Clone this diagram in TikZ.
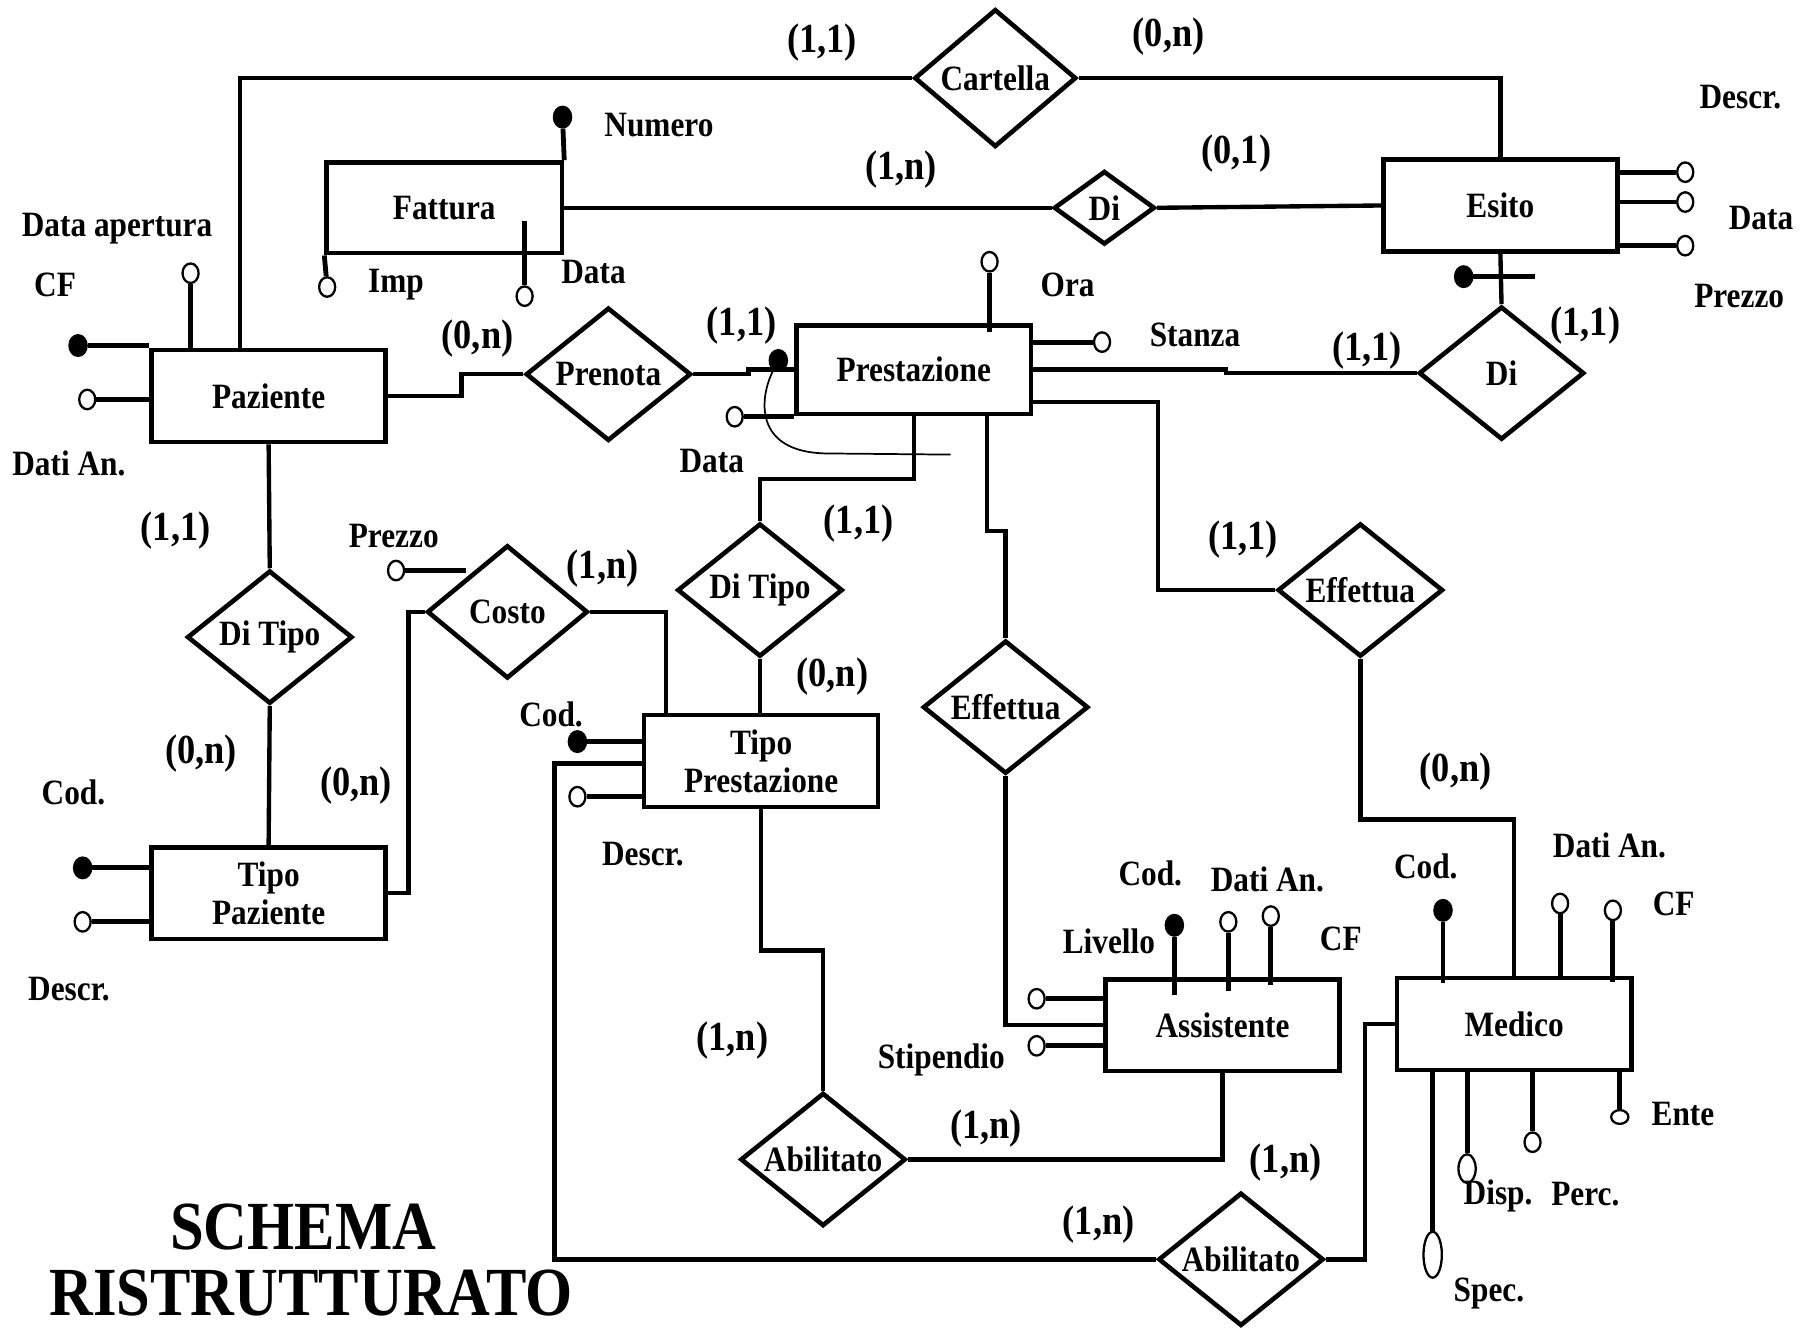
\documentclass[tikz,border=0pt]{standalone}
\usepackage{fontspec}
\setmainfont{Liberation Serif}
\newfontfamily\erfont{Liberation Serif}[FakeStretch=0.88]
\usetikzlibrary{shapes.geometric}

\begin{document}
\begin{tikzpicture}[x=1pt,y=-1pt,
  entity/.style={draw,line width=4pt,minimum width=204pt,minimum height=80pt,inner sep=0pt,align=center,
    font=\erfont\bfseries\fontsize{31}{33}\selectfont},
  rel/.style={draw,diamond,aspect=1.25,line width=4pt,minimum width=144pt,minimum height=116pt,inner sep=0pt,
    font=\erfont\bfseries\fontsize{31}{33}\selectfont},
  conn/.style={line width=3.8pt},
  attrline/.style={line width=4.2pt},
  attr/.style={draw,ellipse,line width=2pt,minimum width=14pt,minimum height=17pt,inner sep=0pt,fill=white},
  key/.style={attr,fill=black,minimum width=15pt,minimum height=18pt},
  lbl/.style={inner sep=0pt,font=\erfont\bfseries\fontsize{31}{33}\selectfont},
  card/.style={inner sep=0pt,font=\erfont\bfseries\fontsize{36}{38}\selectfont},
  title/.style={inner sep=0pt,anchor=base,font=\erfont\bfseries\fontsize{60}{60}\selectfont}]
\useasboundingbox (0,0) rectangle (1568,1157);
% entities
\node[entity,minimum width=205pt,minimum height=79pt] (fat) at (387,181) {Fattura};
\node[entity] (paz) at (234,345) {Paziente};
\node[entity,minimum height=77pt] (pre) at (796,322) {Prestazione};
\node[entity] (esi) at (1307,179) {Esito};
\node[entity] (tpaz) at (234,778) {Tipo\\Paziente};
\node[entity] (tpre) at (663,663) {Tipo\\Prestazione};
\node[entity] (ass) at (1065,893) {Assistente};
\node[entity] (med) at (1319,892) {Medico};
% relationships
\node[rel,minimum width=141pt,minimum height=120pt] (car) at (867,68) {Cartella};
\node[rel,minimum width=88pt,minimum height=64pt] (di1) at (962,181) {Di};
\node[rel] (pren) at (530,326) {Prenota};
\node[rel] (di2) at (1308,325) {Di};
\node[rel] (dtp) at (235,555) {Di Tipo};
\node[rel,minimum width=140pt] (cos) at (442,533) {Costo};
\node[rel] (dtr) at (662,514) {Di Tipo};
\node[rel] (eff1) at (1185,514) {Effettua};
\node[rel] (eff2) at (876,616) {Effettua};
\node[rel] (abi1) at (717,1010) {Abilitato};
\node[rel] (abi2) at (1081,1097) {Abilitato};
% connectors
\draw[conn] ([xshift=-25pt]paz.north) |- (car.west);
\draw[conn] (car.east) -| (esi.north);
\draw[conn] (fat.east) -- (di1.west);
\draw[conn] (di1.east) -- (esi.west);
\draw[conn] (paz.east) -- ++(64,0) |- (pren.west);
\draw[conn] (pren.east) -- ++(48,0) |- (pre.west);
\draw[conn] (pre.east) -- ++(168,0) |- (di2.west);
\draw[conn] (esi.south) -- (di2.north);
\draw[conn] (paz.south) -- (dtp.north);
\draw[conn] (dtp.south) -- (tpaz.north);
\draw[conn] (tpaz.east) -- ++(18,0) |- (cos.west);
\draw[conn] (cos.east) -| ([xshift=-83pt]tpre.north);
\draw[conn] (pre.south) -- ++(0,55) -| (dtr.north);
\draw[conn] (dtr.south) -- (dtr.south |- tpre.north);
\draw[conn] ([xshift=64pt]pre.south) -- ++(0,100) -| (eff2.north);
\draw[conn] ([yshift=-28pt]pre.east) -- ++(109,0) |- (eff1.west);
\draw[conn] (eff1.south) -- ++(0,140) -| (med.north);
\draw[conn] (eff2.south) |- (ass.west);
\draw[conn] (tpre.south) -- ++(0,123) -| (abi1.north);
\draw[conn] (ass.south) |- (abi1.east);
\draw[conn] ([yshift=-2pt]tpre.west) -- ++(-76,0) |- (abi2.west);
\draw[conn] (abi2.east) -- ++(34,0) |- (med.west);
% attributes of Fattura
\node[key] (fatnum) at (490,102) {};
\node[attr] (fatimp) at (285,250) {};
\node[attr] (fatdata) at (457,258) {};
\draw[attrline] (fatnum) -- (fat.north east);
\draw[attrline] (fatimp) -- (fat.south west);
\draw[attrline] (fatdata.north) -- ++(0,-56);
% attributes of Paziente
\node[key] (pazcf) at (68,301) {};
\node[attr] (pazdati) at (76,348) {};
\node[attr] (pazdata) at (166,238) {};
\draw[attrline] (pazcf) -- (pazcf -| paz.west);
\draw[attrline] (pazdati) -- (pazdati -| paz.west);
\draw[attrline] (pazdata) -- (pazdata |- paz.north);
% attributes of Prestazione
\node[attr] (preora) at (862,228) {};
\node[attr] (prestanza) at (960,298) {};
\node[attr] (predata) at (640,363) {};
\node[key] (prekey) at (678,314) {};
\coordinate (prekeyend) at (828,396);
\draw[attrline] (preora) -- (preora |- pre.north) -- ++(0,8);
\draw[attrline] (prestanza) -- (prestanza -| pre.east);
\draw[attrline] (predata) -- (predata -| pre.west);
\draw[line width=1.5pt] (prekey) .. controls (662,345) and (655,394) .. (720,395) -- (prekeyend);
% attributes of Esito
\node[attr] (esidescr) at (1468,150) {};
\node[attr] (esidata) at (1468,176) {};
\node[attr] (esiprezzo) at (1468,214) {};
\node[key] (esikey) at (1275,241) {};
\coordinate (esikeyend) at (1337,241);
\draw[attrline] (esidescr) -- (esidescr -| esi.east);
\draw[attrline] (esidata) -- (esidata -| esi.east);
\draw[attrline] (esiprezzo) -- (esiprezzo -| esi.east);
\draw[attrline] (esikey) -- (esikeyend);
% attributes of Tipo Paziente, Costo, Tipo Prestazione
\node[key] (tpazcod) at (72,756) {};
\node[attr] (tpazdescr) at (72,803) {};
\draw[attrline] (tpazcod) -- (tpazcod -| tpaz.west);
\draw[attrline] (tpazdescr) -- (tpazdescr -| tpaz.west);
\node[attr] (cosprezzo) at (345,497) {};
\draw[attrline] (cosprezzo) -- (cosprezzo -| cos.north west);
\node[key] (tprecod) at (503,646) {};
\node[attr] (tpredescr) at (503,694) {};
\draw[attrline] (tprecod) -- (tprecod -| tpre.west);
\draw[attrline] (tpredescr) -- (tpredescr -| tpre.west);
% attributes of Assistente
\node[key] (asscod) at (1023,806) {};
\node[attr] (assdati) at (1070,803) {};
\node[attr] (asscf) at (1107,798) {};
\node[attr] (asslivello) at (903,870) {};
\node[attr] (assstip) at (903,911) {};
\draw[attrline] (asscod) -- (asscod |- ass.north) -- ++(0,16);
\draw[attrline] (assdati) -- (assdati |- ass.north) -- ++(0,12);
\draw[attrline] (asscf) -- (asscf |- ass.north) -- ++(0,7);
\draw[attrline] (asslivello) -- (asslivello -| ass.west);
\draw[attrline] (assstip) -- (assstip -| ass.west);
% attributes of Medico
\node[key] (medcod) at (1257,793) {};
\node[attr] (meddati) at (1359,787) {};
\node[attr] (medcf) at (1405,793) {};
\node[attr,minimum width=16pt,minimum height=40pt] (medspec) at (1248,1093) {};
\node[attr,minimum width=15pt,minimum height=25pt] (meddisp) at (1278,1018) {};
\node[attr] (medperc) at (1335,995) {};
\node[attr,minimum width=15pt,minimum height=12pt] (medente) at (1411,973) {};
\draw[attrline] (medcod) -- (medcod |- med.north) -- ++(0,6);
\draw[attrline] (meddati) -- (meddati |- med.north);
\draw[attrline] (medcf) -- (medcf |- med.north) -- ++(0,5);
\draw[attrline] (medspec) -- (medspec |- med.south);
\draw[attrline] (meddisp) -- (meddisp |- med.south);
\draw[attrline] (medperc) -- (medperc |- med.south);
\draw[attrline] (medente) -- (medente |- med.south);
% attribute names
\node[lbl] (lnum) at (574,109) {Numero};
\node[lbl] (lfatimp) at (345,248) {Imp};
\node[lbl] (lfatdata) at (517,237) {Data};
\node[lbl] (ldataap) at (102,199) {Data apertura};
\node[lbl] (lpazcf) at (48,248) {CF};
\node[lbl] (lpazdati) at (60,404) {Dati An.};
\node[lbl] (lora) at (930,248) {Ora};
\node[lbl] (lstanza) at (1041,292) {Stanza};
\node[lbl] (lpredata) at (620,402) {Data};
\node[lbl] (lesidescr) at (1516,85) {Descr.};
\node[lbl] (lesidata) at (1534,190) {Data};
\node[lbl] (lesiprezzo) at (1515,258) {Prezzo};
\node[lbl] (lcosprezzo) at (343,467) {Prezzo};
\node[lbl] (ltpazcod) at (64,690) {Cod.};
\node[lbl] (ltpazdescr) at (60,862) {Descr.};
\node[lbl] (ltprecod) at (480,622) {Cod.};
\node[lbl] (ltpredescr) at (560,744) {Descr.};
\node[lbl] (lasscod) at (1002,761) {Cod.};
\node[lbl] (lassdati) at (1104,766) {Dati An.};
\node[lbl] (lasslivello) at (966,820) {Livello};
\node[lbl] (lasscf) at (1168,818) {CF};
\node[lbl] (lassstip) at (820,923) {Stipendio};
\node[lbl] (lmedcod) at (1242,755) {Cod.};
\node[lbl] (lmeddati) at (1402,736) {Dati An.};
\node[lbl] (lmedcf) at (1458,787) {CF};
\node[lbl] (lmedente) at (1466,970) {Ente};
\node[lbl] (lmeddisp) at (1305,1042) {Disp.};
\node[lbl] (lmedperc) at (1381,1040) {Perc.};
\node[lbl] (lmedspec) at (1297,1127) {Spec.};
% cardinalities
\node[card] (c1) at (716,37) {(1,1)};
\node[card] (c2) at (1018,32) {(0,n)};
\node[card] (c3) at (785,148) {(1,n)};
\node[card] (c4) at (1077,134) {(0,1)};
\node[card] (c5) at (416,295) {(0,n)};
\node[card] (c6) at (646,284) {(1,1)};
\node[card] (c7) at (1191,305) {(1,1)};
\node[card] (c8) at (1381,284) {(1,1)};
\node[card] (c9) at (153,462) {(1,1)};
\node[card] (c10) at (748,456) {(1,1)};
\node[card] (c11) at (525,495) {(1,n)};
\node[card] (c12) at (1083,470) {(1,1)};
\node[card] (c13) at (725,589) {(0,n)};
\node[card] (c14) at (175,656) {(0,n)};
\node[card] (c15) at (310,684) {(0,n)};
\node[card] (c16) at (1268,672) {(0,n)};
\node[card] (c17) at (638,906) {(1,n)};
\node[card] (c18) at (859,983) {(1,n)};
\node[card] (c19) at (1120,1013) {(1,n)};
\node[card] (c20) at (957,1067) {(1,n)};
% title
\node[title] (t1) at (264,1088) {SCHEMA};
\node[title] (t2) at (271,1146) {RISTRUTTURATO};
\end{tikzpicture}
\end{document}
